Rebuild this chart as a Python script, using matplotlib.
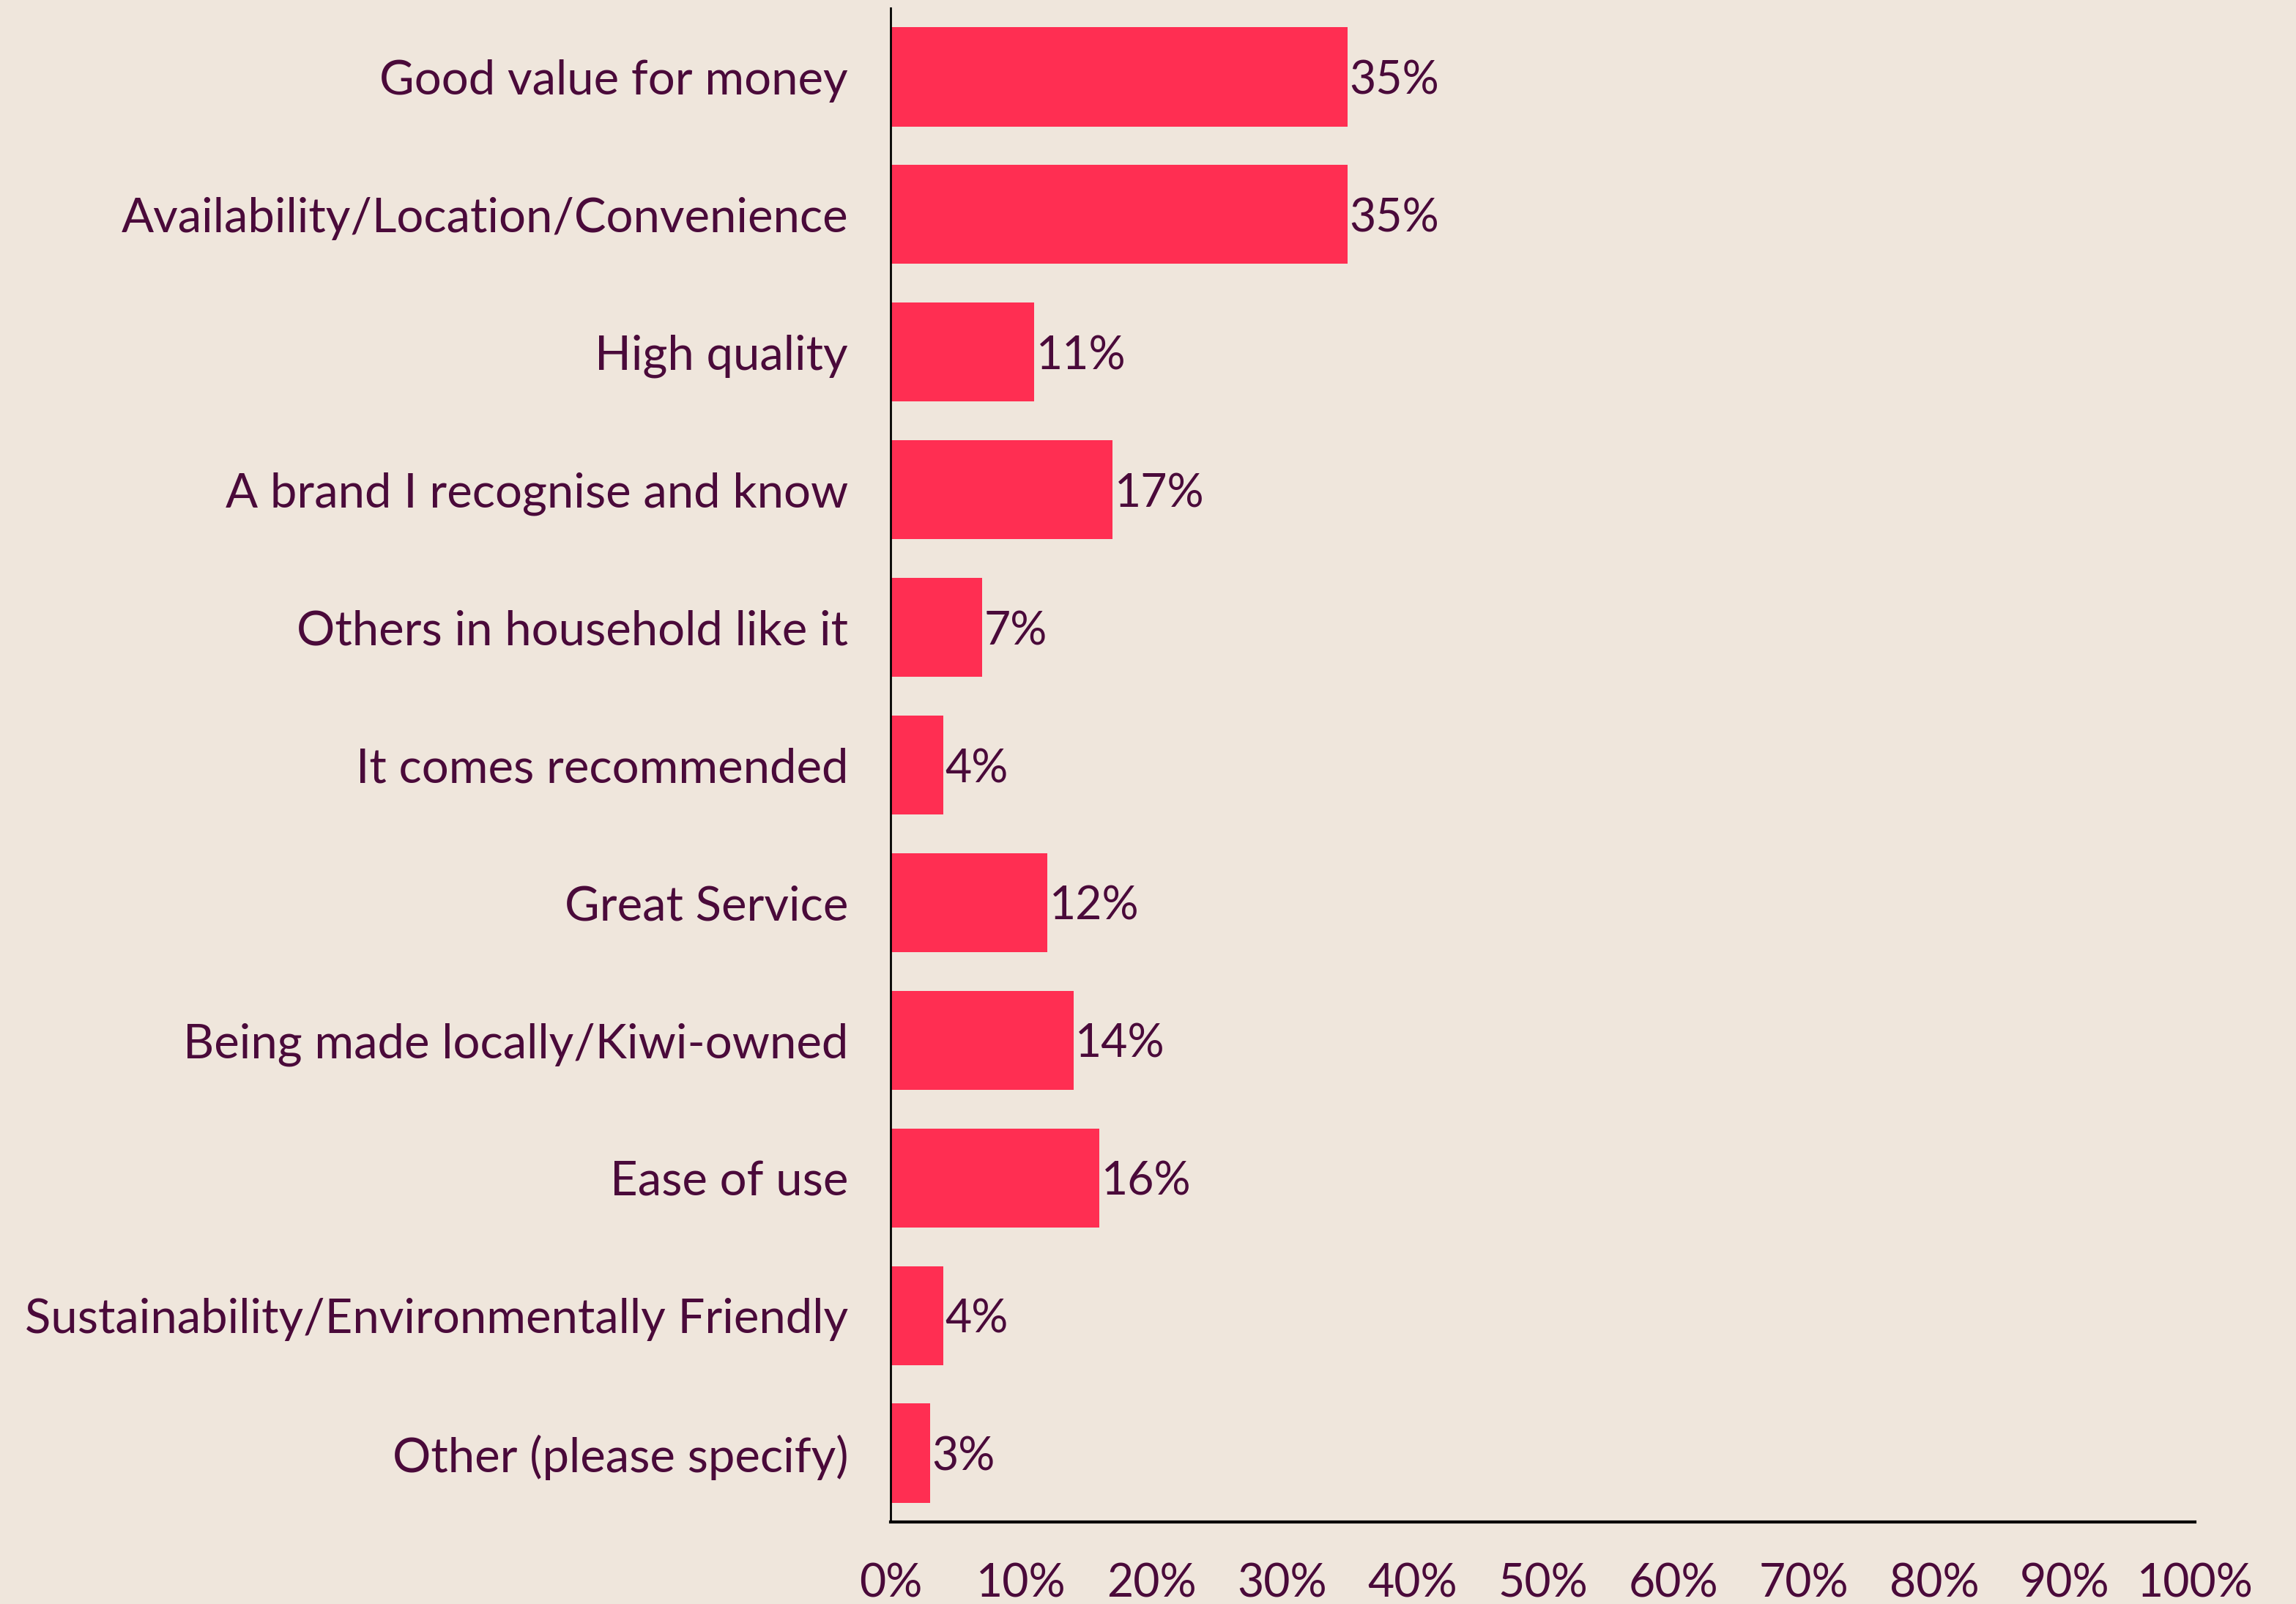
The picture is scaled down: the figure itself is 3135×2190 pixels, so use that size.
import matplotlib
matplotlib.use("Agg")
import matplotlib.pyplot as plt
from matplotlib.ticker import FuncFormatter

# survey answers, top to bottom
categories = [
    "Good value for money",
    "Availability/Location/Convenience",
    "High quality",
    "A brand I recognise and know",
    "Others in household like it",
    "It comes recommended",
    "Great Service",
    "Being made locally/Kiwi-owned",
    "Ease of use",
    "Sustainability/Environmentally Friendly",
    "Other (please specify)",
]
values = [35, 35, 11, 17, 7, 4, 12, 14, 16, 4, 3]
x_ticks = [0, 10, 20, 30, 40, 50, 60, 70, 80, 90, 100]

bg = "#EFE6DC"
bar_color = "#FF2E52"
text_color = "#4A0A3A"

plt.rcParams['font.family'] = ['Lato', 'DejaVu Sans']

fig = plt.figure(figsize=(31.35, 21.9), dpi=100, facecolor=bg)
ax = fig.add_axes([0.388, 0.0511, 0.956 - 0.388, 0.995 - 0.0511])
ax.set_facecolor(bg)

ypos = list(range(len(categories)))
ax.barh(ypos, values, height=0.72, color=bar_color)

# value labels just right of each bar
for y, v in zip(ypos, values):
    ax.text(v + 0.15, y, f"{v}%", va="center_baseline", ha="left",
            fontsize=45, color=text_color)

ax.set_xlim(0, 100)
ax.set_ylim(len(categories) - 0.5, -0.5)
ax.set_yticks(ypos)
ax.set_yticklabels(categories)
ax.set_xticks(x_ticks)
ax.xaxis.set_major_formatter(FuncFormatter(lambda v, p: f"{int(v)}%"))

ax.tick_params(axis="y", length=0, pad=42, labelsize=47, labelcolor=text_color)
ax.tick_params(axis="x", length=0, pad=40, labelsize=45, labelcolor=text_color)

for s in ["top", "right"]:
    ax.spines[s].set_visible(False)
ax.spines["left"].set_linewidth(2)
ax.spines["bottom"].set_linewidth(3)
ax.spines["left"].set_color("black")
ax.spines["bottom"].set_color("black")

fig.savefig("out.png", dpi=100, facecolor=bg)
